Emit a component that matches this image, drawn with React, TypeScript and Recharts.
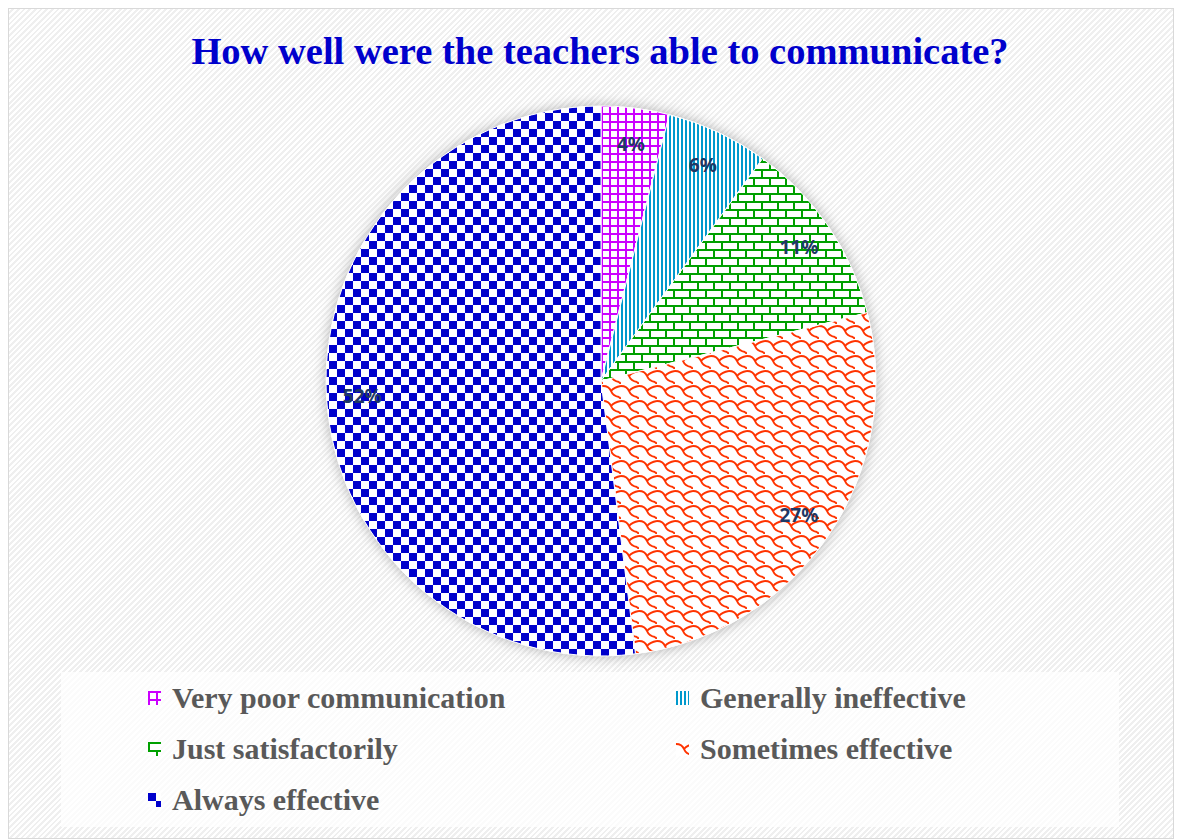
import React from "react";
import { Cell, Legend, Pie, PieChart } from "recharts";

const categories = [
  "Very poor communication",
  "Generally ineffective",
  "Just satisfactorily",
  "Sometimes effective",
  "Always effective",
];
const shares = [4, 6, 11, 27, 52];

const patternIds = ["patGrid", "patStripe", "patBrick", "patShingle", "patChecker"];

const data = categories.map((name, i) => ({ name, value: shares[i] }));
const shadowData = [{ name: "all", value: 1 }];

const RAD = Math.PI / 180;

const renderLabel = (p: any) => {
  const r = p.outerRadius * 0.87;
  const x = p.cx + r * Math.cos(-p.midAngle * RAD);
  const y = p.cy + r * Math.sin(-p.midAngle * RAD);
  return (
    <text
      x={x}
      y={y}
      textAnchor="middle"
      dominantBaseline="central"
      fill="#1f3864"
      fontFamily="'Noto Sans', sans-serif"
      fontWeight={700}
      fontSize={19}
    >
      {`${shares[p.index]}%`}
    </text>
  );
};

const renderLegend = () => (
  <div
    style={{
      display: "grid",
      gridTemplateColumns: "528px 528px",
      gridAutoRows: "51px",
      paddingLeft: 87,
      boxSizing: "border-box",
      width: "100%",
      height: "100%",
      background: "rgba(255,255,255,0.75)",
    }}
  >
    {categories.map((c, i) => (
      <div key={c} style={{ display: "flex", alignItems: "center" }}>
        <svg width={13} height={14} style={{ marginRight: 11 }}>
          <rect width={13} height={14} fill={`url(#${patternIds[i]})`} />
        </svg>
        <span
          style={{
            fontFamily: "'Liberation Serif', serif",
            fontWeight: 700,
            fontSize: 30,
            color: "#595959",
            lineHeight: "51px",
          }}
        >
          {c}
        </span>
      </div>
    ))}
  </div>
);

export default function App() {
  return (
    <div
      style={{
        position: "relative",
        width: 1166,
        height: 831,
        boxSizing: "border-box",
        border: "1px solid #d9d9d9",
        background:
          "repeating-linear-gradient(135deg, #ffffff 0px, #ffffff 2px, #efefef 2px, #efefef 4px)",
      }}
    >
      <div
        style={{
          position: "absolute",
          top: 23,
          left: 16,
          width: 1150,
          textAlign: "center",
          fontFamily: "'Liberation Serif', serif",
          fontWeight: 700,
          fontSize: 38.5,
          lineHeight: "38px",
          color: "#0000cc",
        }}
      >
        How well were the teachers able to communicate?
      </div>
      <PieChart width={1164} height={829}>
        <defs>
          <filter id="pieShadow" x="-10%" y="-10%" width="120%" height="120%">
            <feDropShadow dx="0" dy="0" stdDeviation="7" floodColor="#7f7f7f" floodOpacity="0.6" />
          </filter>
          <pattern id="patGrid" width={8} height={8} patternUnits="userSpaceOnUse">
            <rect width={8} height={8} fill="#fff" />
            <path d="M1,0 V8 M0,1 H8" stroke="#cc00ff" strokeWidth={2} />
          </pattern>
          <pattern id="patStripe" width={4} height={4} patternUnits="userSpaceOnUse">
            <rect width={4} height={4} fill="#fff" />
            <rect width={2} height={4} fill="#0099cc" />
          </pattern>
          <pattern id="patBrick" width={16} height={16} patternUnits="userSpaceOnUse">
            <rect width={16} height={16} fill="#fff" />
            <path d="M0,1 H16 M0,9 H16 M1,0 V8 M9,8 V16" stroke="#00a000" strokeWidth={2} />
          </pattern>
          <pattern id="patShingle" width={18} height={15} patternUnits="userSpaceOnUse">
            <rect width={18} height={15} fill="#fff" />
            <path
              d="M0,2 Q6,2 8,7 T16,13 M8,7 Q11,3 18,2 M16,13 L18,15"
              fill="none"
              stroke="#ff3300"
              strokeWidth={2}
            />
          </pattern>
          <pattern id="patChecker" width={16} height={16} patternUnits="userSpaceOnUse">
            <rect width={16} height={16} fill="#fff" />
            <rect width={8} height={8} fill="#0000cc" />
            <rect x={8} y={8} width={8} height={8} fill="#0000cc" />
          </pattern>
        </defs>
        <Pie
          data={shadowData}
          dataKey="value"
          cx={587}
          cy={367}
          outerRadius={275}
          startAngle={90}
          endAngle={-270}
          stroke="none"
          isAnimationActive={false}
        >
          <Cell fill="#ffffff" filter="url(#pieShadow)" />
        </Pie>
        <Pie
          data={data}
          dataKey="value"
          nameKey="name"
          cx={587}
          cy={367}
          outerRadius={275}
          startAngle={90}
          endAngle={-270}
          stroke="#ffffff"
          strokeWidth={1}
          label={renderLabel}
          labelLine={false}
          isAnimationActive={false}
        >
          {data.map((d, i) => (
            <Cell key={d.name} fill={`url(#${patternIds[i]})`} />
          ))}
        </Pie>
        <Legend
          content={renderLegend}
          wrapperStyle={{ position: "absolute", left: 52, top: 663, width: 1058, height: 155 }}
        />
      </PieChart>
    </div>
  );
}
